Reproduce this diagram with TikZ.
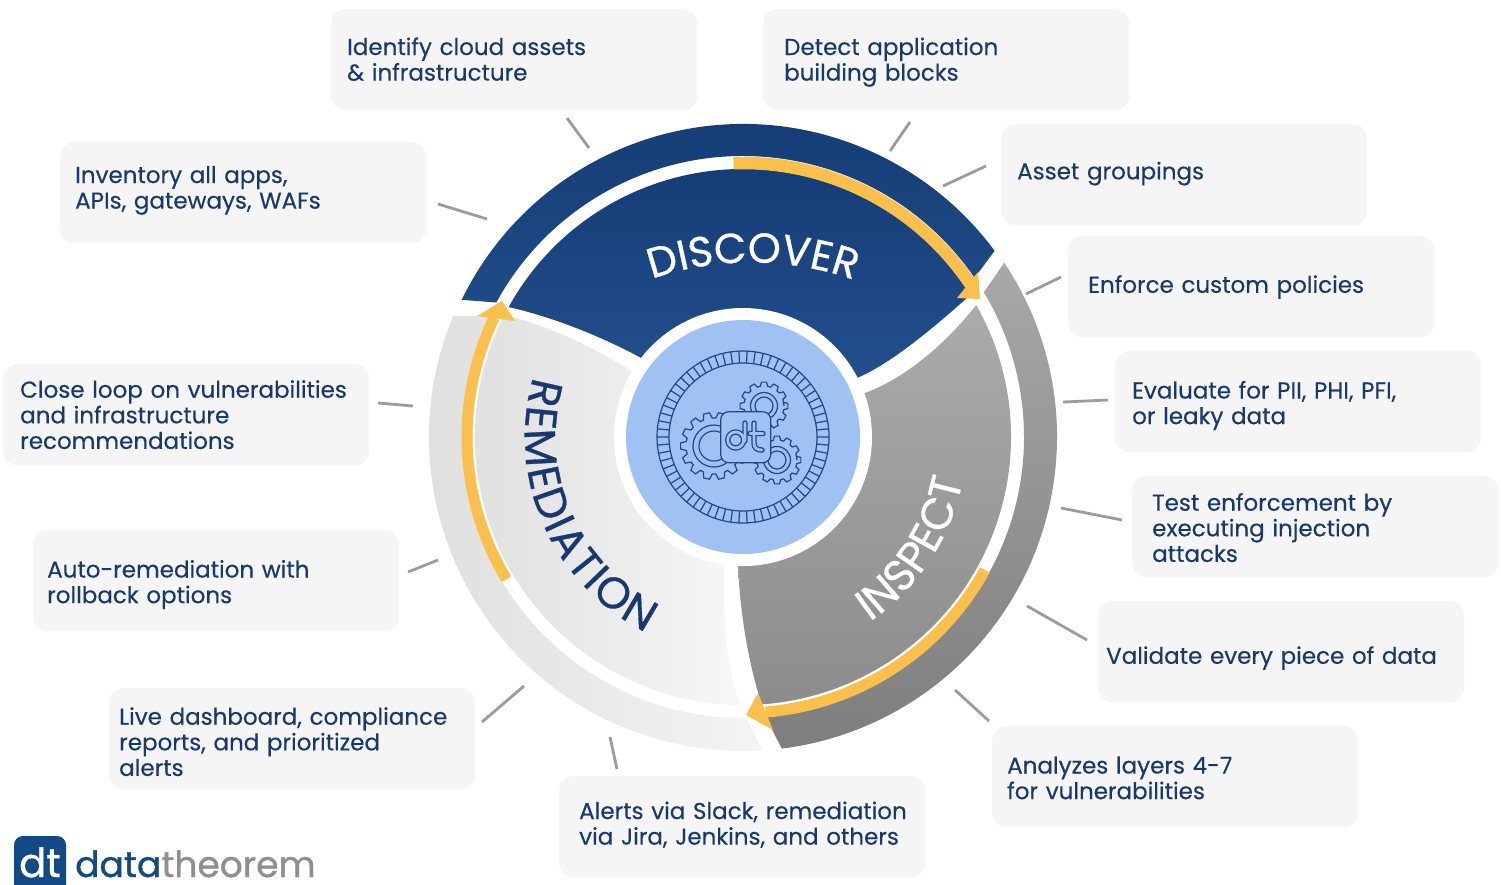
\documentclass[tikz,border=0pt]{standalone}
\usepackage{fontspec}
\usetikzlibrary{decorations.text}
\setmainfont{Poppins}[FakeBold=0.3]
\newfontfamily\logof{Poppins}[FakeBold=1.0]
\newfontfamily\ringf{Poppins}[FakeBold=0.7]
\definecolor{navy}{HTML}{17396F}
\definecolor{boxgray}{HTML}{F5F5F5}
\definecolor{spokegray}{HTML}{9C9C9C}
\definecolor{amber}{HTML}{FBBF4C}
\definecolor{disc}{HTML}{9FC1F4}
\definecolor{iconblue}{HTML}{1D4A80}
\definecolor{logoblue}{HTML}{124A85}
\definecolor{logogray}{HTML}{8F8F8F}
\definecolor{HTMLa}{HTML}{143A72}
\definecolor{HTMLb}{HTML}{1E4B87}
\definecolor{HTMLc}{HTML}{A8A8A8}
\definecolor{HTMLd}{HTML}{7E7E7E}
\definecolor{HTMLe}{HTML}{DDDDDD}
\definecolor{HTMLf}{HTML}{F4F4F4}
\definecolor{HTMLg}{HTML}{133A73}
\definecolor{HTMLh}{HTML}{265493}
\definecolor{HTMLi}{HTML}{ABABAB}
\definecolor{HTMLj}{HTML}{8C8C8C}
\definecolor{HTMLk}{HTML}{F7F7F7}
\newcommand{\ringfont}[1]{\ringf\fontsize{#1}{#1}\selectfont}
% taller first-line strut pushes the text down, deeper last-line strut pushes it up
\newcommand{\boxtop}[1]{\ifdim#1pt>0pt\rule{0pt}{\dimexpr17.9pt+#1pt*2\relax}\else\strut\fi}
\newcommand{\boxbot}[1]{\ifdim#1pt<0pt\rule[\dimexpr-7.7pt+#1pt*2\relax]{0pt}{1pt}\else\strut\fi}
\newcommand{\gearshape}[6]{% x y Ro Ri n label
  \begin{scope}[shift={(#1,-#2)}]
    \pgfmathsetmacro{\pitch}{360/#5}
    \draw[iconline,fill=disc] (0:#4)
      \foreach \k in {1,...,#5}{
        -- ({(\k-.36)*\pitch}:#4) -- ({(\k-.2)*\pitch}:#3) -- ({(\k+.2)*\pitch}:#3) -- ({(\k+.36)*\pitch}:#4)
      } -- cycle;
  \end{scope}}
\tikzset{
  every picture/.style={x=1pt,y=1pt},
  box/.style 2 args={draw=none,fill=boxgray,rounded corners=14pt,anchor=north west,
    minimum width=366pt,minimum height=101pt,inner xsep=#1pt,inner ysep=0pt,
    text width={366pt-2*#1pt},align=left,text=navy,
    font=\fontsize{23}{25.6}\selectfont,
    execute at begin node={\boxtop{#2}},execute at end node={\boxbot{#2}}},
  spoke/.style={draw=spokegray,line width=2.8pt},
  iconline/.style={draw=iconblue,line width=1.2pt},
  yellowarc/.style={draw=amber,line width=11pt},
  yellowhead/.style={fill=amber,draw=none},
}
\begin{document}
\begin{tikzpicture}[x=1pt,y=1pt]
\useasboundingbox (0,0) rectangle (1501,-884);
\fill[white] (0,0) rectangle (1501,-884);
% boxes
\node[box={16}{3}] (b1) at (331,-9) {Identify cloud assets\\\& infrastructure};
\node[box={21}{3}] (b2) at (763,-9) {Detect application\\building blocks};
\node[box={16}{-0.5}] (b3) at (1001,-124) {Asset groupings};
\node[box={20}{1}] (b4) at (1068,-236) {Enforce custom policies};
\node[box={17}{4.5}] (b5) at (1115,-351) {Evaluate for PII, PHI, PFI,\\or leaky data};
\node[box={20}{4.5}] (b6) at (1132,-476) {Test enforcement by\\executing injection\\attacks};
\node[box={8}{7}] (b7) at (1098,-601) {Validate every piece of data};
\node[box={15}{4.5}] (b8) at (992,-726) {Analyzes layers 4-7\\for vulnerabilities};
\node[box={20}{0}] (b9) at (559,-776) {\mbox{Alerts via Slack, remediation}\\\mbox{via Jira, Jenkins, and others}};
\node[box={10}{6.5}] (b10) at (109,-688) {Live dashboard, compliance\\reports, and prioritized\\alerts};
\node[box={14}{4.5}] (b11) at (33,-530) {Auto-remediation with\\rollback options};
\node[box={17}{3.5}] (b12) at (3,-364) {\mbox{Close loop on vulnerabilities}\\and infrastructure\\recommendations};
\node[box={15}{-2}] (b13) at (60,-142) {Inventory all apps,\\APIs, gateways, WAFs};
% spokes
\coordinate (s1a) at (567,-118);  \coordinate (s1b) at (589,-148);
\coordinate (s2a) at (910,-122);  \coordinate (s2b) at (890,-151);
\coordinate (s3a) at (986,-166);  \coordinate (s3b) at (943,-186);
\coordinate (s4a) at (1061,-277); \coordinate (s4b) at (1026,-294);
\coordinate (s5a) at (1108,-400); \coordinate (s5b) at (1063,-402);
\coordinate (s6a) at (1122,-520); \coordinate (s6b) at (1061,-508);
\coordinate (s7a) at (1087,-640); \coordinate (s7b) at (1027,-606);
\coordinate (s8a) at (989,-721);  \coordinate (s8b) at (955,-690);
\coordinate (s9a) at (610,-737);  \coordinate (s9b) at (617,-769);
\coordinate (s10a) at (524,-686); \coordinate (s10b) at (482,-722);
\coordinate (s11a) at (438,-560); \coordinate (s11b) at (408,-572);
\coordinate (s12a) at (413,-406); \coordinate (s12b) at (378,-403);
\coordinate (s13a) at (487,-219); \coordinate (s13b) at (438,-204);
\foreach \i in {1,...,13}{\draw[spoke] (s\i a) -- (s\i b);}
% ring
\begin{scope}[shift={(743,-437)}]
  % outer bands
  \path[top color=HTMLa,bottom color=HTMLb]
    (154:313) arc[start angle=154,end angle=36.5,radius=313pt] -- (34.5:281)
    arc[start angle=34.5,end angle=151.4,radius=281pt] -- cycle;
  \path[top color=HTMLc,bottom color=HTMLd]
    (33.7:314) arc[start angle=33.7,end angle=-82.9,radius=314pt] -- (-85.4:281)
    arc[start angle=-85.4,end angle=31,radius=281pt] -- cycle;
  \path[left color=HTMLe,right color=HTMLf]
    (157.3:314) arc[start angle=157.3,end angle=273.5,radius=314pt] -- (270.6:281)
    arc[start angle=270.6,end angle=154.5,radius=281pt] -- cycle;
  % inner sectors
  \path[top color=HTMLg,bottom color=HTMLh]
    (151:268) arc[start angle=151,end angle=32,radius=268pt]
    .. controls (175,95) and (140,70) .. (114,59) -- (0,0) -- (-100,78)
    .. controls (-140,100) and (-190,120) .. cycle;
  \path[top color=HTMLi,bottom color=HTMLj]
    (29.5:268) arc[start angle=29.5,end angle=-86,radius=268pt]
    .. controls (5,-225) and (-3,-175) .. (-5,-128) -- (0,0) -- (122,44)
    .. controls (160,58) and (200,90) .. cycle;
  \path[left color=HTMLe,right color=HTMLk]
    (153:268) arc[start angle=153,end angle=269.6,radius=268pt]
    .. controls (-12,-245) and (-20,-215) .. (-19,-128) -- (0,0) -- (-110,65)
    .. controls (-150,90) and (-195,112) .. cycle;
  % yellow arrows
  \draw[yellowarc,line width=12.5pt] (92:274) arc[start angle=92,end angle=34,radius=274pt];
  \fill[yellowhead] (214,139) -- (237,138) -- (235,165) -- cycle;
  \draw[yellowarc] (-28.8:276) arc[start angle=-28.8,end angle=-85.3,radius=276pt];
  \fill[yellowhead] (3,-278) -- (15,-256) -- (30,-293) -- cycle;
  \draw[yellowarc] (211:276) arc[start angle=211,end angle=154.4,radius=276pt];
  \fill[yellowhead] (-241,136) -- (-266,121) -- (-228,116) -- cycle;
  % centre disc
  \fill[white] (0,0) circle[radius=129pt];
  \fill[disc] (0,0) circle[radius=117pt];
  % lettering
  \path[decorate,decoration={text along path,text align={fit to path},
      text={|\color{white}\ringfont{42}|DISCOVER}}]
    (-91,158) .. controls (-30,180) and (45,180) .. (108,158);
  \path[decorate,decoration={text along path,text align={fit to path},
      text={|\color{white}\ringfont{44}|INSPECT}}]
    (-55.5:224) arc[start angle=-55.5,end angle=-12.5,radius=224pt];
  \path[decorate,decoration={text along path,text align={fit to path},
      text={|\color{navy}\ringfont{44}|REMEDIATION}}]
    (164:218) arc[start angle=164,end angle=243.5,radius=218pt];
  % icon ring
  \draw[iconline] (0,0) circle[radius=86pt] (0,0) circle[radius=74pt];
  \foreach \k in {1,...,66}{\draw[iconline] ({\k*5.4545}:74) -- ({\k*5.4545}:86);}
\end{scope}
% gears
\gearshape{714}{446}{33.5}{28}{14}{}
\gearshape{764}{406}{24}{20}{12}{}
\gearshape{777}{460}{24}{20}{12}{}
\draw[iconline] (714,-446) circle[radius=21pt] (714,-446) circle[radius=15pt];
\draw[iconline] (764,-406) circle[radius=13.5pt] (764,-406) circle[radius=9pt];
\draw[iconline] (777,-460) circle[radius=13.5pt] (777,-460) circle[radius=9pt];
\draw[iconline,fill=disc,rounded corners=8pt] (720.7,-411.7) rectangle (770.7,-462.7);
% icon dt
\draw[iconblue,line width=5.4pt,line cap=round] (735.7,-440) circle[radius=8pt]
  (745,-423) -- (745,-441)
  (754,-423) -- (754,-443) .. controls (754,-448) and (757,-450) .. (762,-450)
  (750,-433.5) -- (763,-433.5);
\draw[disc,line width=2.8pt,line cap=round] (735.7,-440) circle[radius=8pt]
  (745,-423) -- (745,-441)
  (754,-423) -- (754,-443) .. controls (754,-448) and (757,-450) .. (762,-450)
  (750,-433.5) -- (763,-433.5);
% logo
\fill[logoblue,rounded corners=9pt] (14,-836) rectangle (66,-900);
\node[anchor=base,text=white,inner sep=0pt,font=\logof\fontsize{40}{40}\selectfont] (logomark) at (40,-877) {dt};
\node[anchor=base west,inner sep=0pt,font=\logof\fontsize{36}{36}\selectfont] (logotext) at (75,-877)
  {\textcolor{logoblue}{data}\textcolor{logogray}{theorem}};
\end{tikzpicture}
\end{document}
